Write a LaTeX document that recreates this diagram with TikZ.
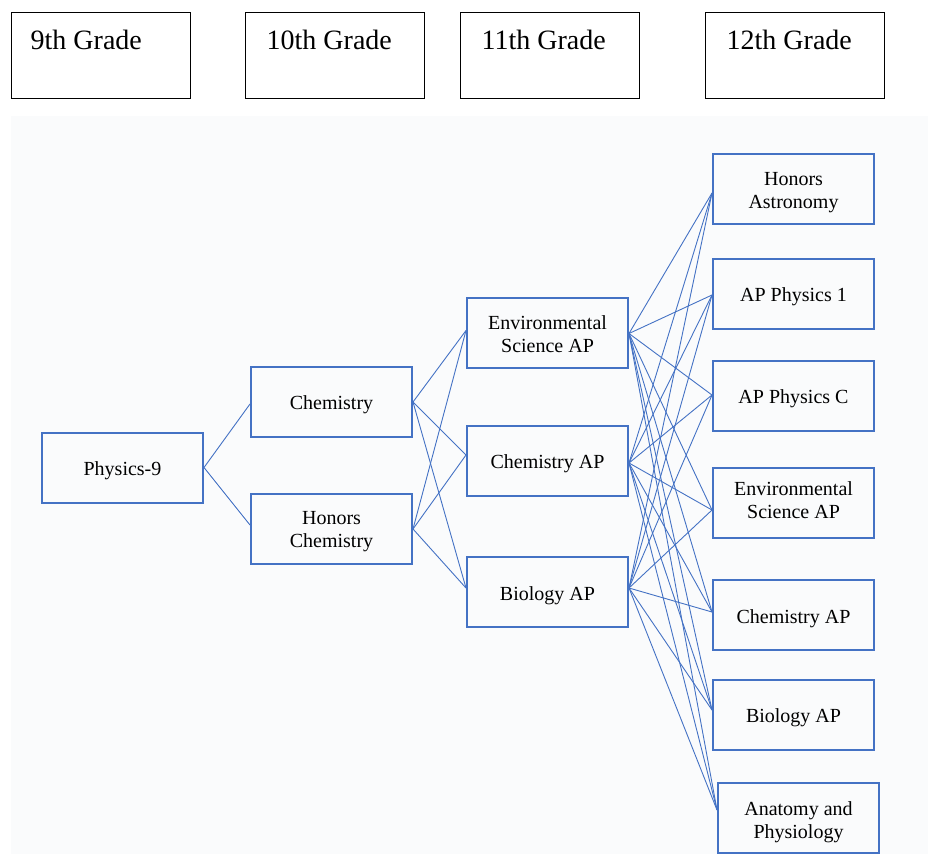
\documentclass[tikz,border=0pt]{standalone}
\usepackage{fontspec}
\setmainfont{Liberation Serif}
\definecolor{boxblue}{RGB}{68,114,196}
\definecolor{bgpale}{RGB}{250,251,252}
\begin{document}
\begin{tikzpicture}[x=1pt,y=-1pt,
  hdr/.style={draw=black,line width=1pt,fill=white,minimum width=179pt,minimum height=86pt,inner sep=0pt},
  hdrtext/.style={anchor=base west,font=\fontsize{28}{32}\selectfont,inner sep=0pt},
  course/.style={draw=boxblue,line width=2pt,fill=bgpale,minimum width=161pt,minimum height=70pt,inner sep=0pt},
  ctext/.style={align=center,font=\fontsize{20}{23}\selectfont,inner sep=0pt},
  link/.style={draw=boxblue,line width=0.9pt}]
\useasboundingbox (0,0) rectangle (928,854);
\fill[white] (0,0) rectangle (928,854);
\fill[bgpale] (11,116) rectangle (928,854);

% grade headers
\node[hdr] (g9) at (100.5,55) {};
\node[hdr] (g10) at (334.5,55) {};
\node[hdr] (g11) at (549.5,55) {};
\node[hdr] (g12) at (794.5,55) {};
\node[hdrtext] (t9) at ([xshift=20pt,yshift=-38pt]g9.north west) {9th Grade};
\node[hdrtext] (t10) at ([xshift=22pt,yshift=-38pt]g10.north west) {10th Grade};
\node[hdrtext] (t11) at ([xshift=22pt,yshift=-38pt]g11.north west) {11th Grade};
\node[hdrtext] (t12) at ([xshift=22pt,yshift=-38pt]g12.north west) {12th Grade};

% course boxes
\node[course] (phys) at (122.5,467.5) {};
\node[course] (chem) at (331.5,402) {};
\node[course] (hchem) at (331.5,529) {};
\node[course] (envA) at (547.5,332.5) {};
\node[course] (chemA) at (547.5,461) {};
\node[course] (bioA) at (547.5,592) {};
\node[course] (astro) at (793.5,188.5) {};
\node[course] (apone) at (793.5,293.5) {};
\node[course] (apc) at (793.5,396) {};
\node[course] (envB) at (793.5,503) {};
\node[course] (chemB) at (793.5,615) {};
\node[course] (bioB) at (793.5,715) {};
\node[course] (anat) at (798.5,818) {};

% course texts
\node[ctext] (physT) at ([yshift=-2.8pt]phys.center) {Physics-9};
\node[ctext] (chemT) at ([yshift=-2.3pt]chem.center) {Chemistry};
\node[ctext] (hchemT) at ([yshift=-2.8pt]hchem.center) {Honors\\Chemistry};
\node[ctext] (envAT) at ([yshift=-1.2pt]envA.center) {Environmental\\Science AP};
\node[ctext] (chemAT) at ([yshift=-2.3pt]chemA.center) {Chemistry AP};
\node[ctext] (bioAT) at ([yshift=-3.3pt]bioA.center) {Biology AP};
\node[ctext] (astroT) at ([yshift=-3.8pt]astro.center) {Honors\\Astronomy};
\node[ctext] (aponeT) at ([yshift=-2.8pt]apone.center) {AP Physics 1};
\node[ctext] (apcT) at ([yshift=-3.1pt]apc.center) {AP Physics C};
\node[ctext] (envBT) at ([yshift=3.3pt]envB.center) {Environmental\\Science AP};
\node[ctext] (chemBT) at ([yshift=-4.1pt]chemB.center) {Chemistry AP};
\node[ctext] (bioBT) at ([yshift=-2.6pt]bioB.center) {Biology AP};
\node[ctext] (anatT) at ([yshift=-4.3pt]anat.center) {Anatomy and\\Physiology};

% connector end points on the boxes
\coordinate (phys-out) at (phys.east);
\coordinate (chem-in) at ([yshift=-2pt]chem.west);
\coordinate (hchem-in) at ([yshift=4pt]hchem.west);
\coordinate (chem-out) at (chem.east);
\coordinate (hchem-out) at (hchem.east);
\coordinate (envA-in) at ([yshift=2pt]envA.west);
\coordinate (chemA-in) at ([yshift=6pt]chemA.west);
\coordinate (bioA-in) at ([yshift=4pt]bioA.west);
\coordinate (envA-out) at ([yshift=-1pt]envA.east);
\coordinate (chemA-out) at ([yshift=-2pt]chemA.east);
\coordinate (bioA-out) at ([yshift=4pt]bioA.east);
\coordinate (astro-in) at ([yshift=-4.5pt]astro.west);
\coordinate (apone-in) at ([yshift=-1.5pt]apone.west);
\coordinate (apc-in) at ([yshift=1pt]apc.west);
\coordinate (envB-in) at ([yshift=-7pt]envB.west);
\coordinate (chemB-in) at ([yshift=3pt]chemB.west);
\coordinate (bioB-in) at ([yshift=5pt]bioB.west);
\coordinate (anat-in) at ([yshift=8pt]anat.west);

% connectors
\draw[link] (phys-out) -- (chem-in);
\draw[link] (phys-out) -- (hchem-in);
\foreach \a in {chem,hchem}
  \foreach \b in {envA,chemA,bioA}
    \draw[link] (\a-out) -- (\b-in);
\foreach \a in {envA,chemA,bioA}
  \foreach \b in {astro,apone,apc,envB,chemB,bioB,anat}
    \draw[link] (\a-out) -- (\b-in);
\end{tikzpicture}
\end{document}
